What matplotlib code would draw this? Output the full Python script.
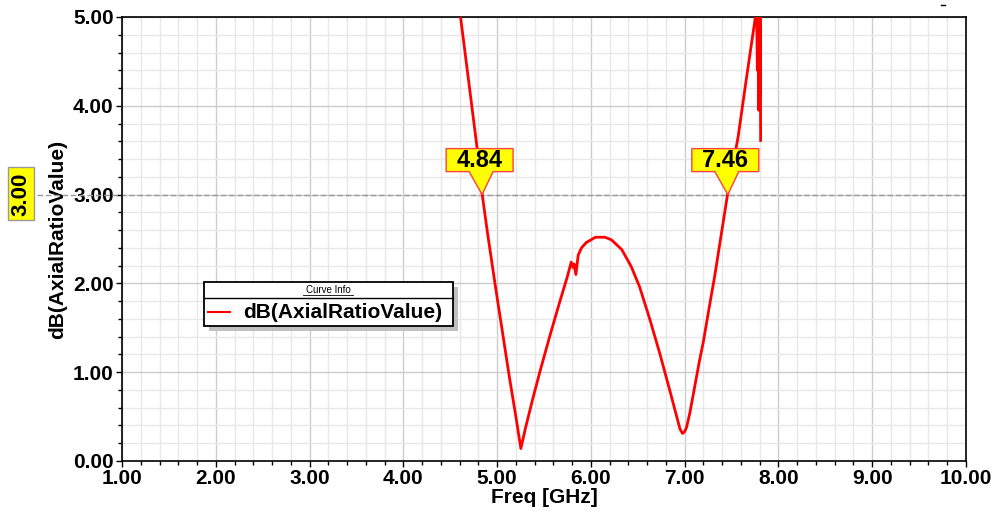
import matplotlib
matplotlib.use("Agg")
import matplotlib.pyplot as plt
import matplotlib.transforms as mtransforms
from matplotlib.patches import Polygon, Rectangle
from matplotlib.lines import Line2D
from matplotlib.ticker import MultipleLocator, FormatStrFormatter

plt.rcParams['font.family'] = ['Liberation Sans', 'DejaVu Sans']

# curve data (values above 5 are clipped by the axes)
freq = [4.50, 4.61, 4.70, 4.78, 4.84, 4.90, 4.977, 5.05, 5.13, 5.20, 5.253,
        5.30, 5.38, 5.46, 5.56, 5.67, 5.75, 5.79, 5.81, 5.82, 5.84, 5.865,
        5.90, 5.95, 6.05, 6.15, 6.22, 6.33, 6.43, 6.52, 6.63, 6.735, 6.84, 6.93,
        6.95, 6.977, 7.00, 7.02, 7.055, 7.16, 7.197, 7.27, 7.32, 7.46, 7.57,
        7.66, 7.75, 7.765, 7.775, 7.78, 7.79, 7.795, 7.80, 7.805, 7.81]
axial_ratio = [5.95, 5.00, 4.25, 3.58, 3.01, 2.55, 2.00, 1.50, 0.95, 0.50, 0.14,
               0.36, 0.70, 1.02, 1.40, 1.80, 2.08, 2.24, 2.18, 2.22, 2.10, 2.32,
               2.40, 2.46, 2.52, 2.52, 2.49, 2.38, 2.19, 1.96, 1.59, 1.21, 0.80, 0.44,
               0.36, 0.31, 0.33, 0.38, 0.54, 1.14, 1.33, 1.78, 2.08, 3.02, 3.65,
               4.32, 4.97, 5.30, 4.40, 5.60, 3.95, 5.50, 4.10, 5.60, 3.61]

marker_freqs = [4.84, 7.46]
marker_labels = ['4.84', '7.46']
ref_level = 3.0

W, H = 996, 518
fig = plt.figure(figsize=(W / 100, H / 100), dpi=100)
ax = fig.add_axes([122 / W, 1 - 461 / H, 844 / W, 444 / H])

def fx(px):
    return px / W

def fy(py):
    return 1 - py / H

ax.set_xlim(1, 10)
ax.set_ylim(0, 5)
ax.xaxis.set_major_locator(MultipleLocator(1))
ax.xaxis.set_minor_locator(MultipleLocator(0.2))
ax.yaxis.set_major_locator(MultipleLocator(1))
ax.yaxis.set_minor_locator(MultipleLocator(0.2))
ax.xaxis.set_major_formatter(FormatStrFormatter('%.2f'))
ax.yaxis.set_major_formatter(FormatStrFormatter('%.2f'))
ax.grid(which='major', color='#cccccc', lw=1.0)
ax.grid(which='minor', color='#e8e8e8', lw=1.0)
ax.set_axisbelow(True)
ax.tick_params(which='major', direction='out', length=4, width=1, pad=2,
               labelsize=15)
ax.tick_params(which='minor', direction='out', length=3, width=1)
for lab in ax.get_xticklabels() + ax.get_yticklabels():
    lab.set_fontweight('bold')
for s in ax.spines.values():
    s.set_color('black')
    s.set_linewidth(1.2)

ax.set_xlabel('Freq [GHz]', fontsize=15, fontweight='bold', labelpad=0)
ax.set_ylabel('dB(AxialRatioValue)', fontsize=15, fontweight='bold', labelpad=4)

# reference line at 3 dB, running out past the axis to the left label
ax.plot([-0.1007, 1], [ref_level, ref_level], transform=ax.get_yaxis_transform(),
        color='#999999', lw=1, ls=(0, (4, 2)), clip_on=False, zorder=1)

ax.plot(freq, axial_ratio, color='#ff0000', lw=2, zorder=3)

# marker callouts
for mf, ml in zip(marker_freqs, marker_labels):
    tr = fig.dpi_scale_trans + mtransforms.ScaledTranslation(mf, ref_level, ax.transData)
    pts = [(0, 0), (-0.13, 0.23), (-0.36, 0.23), (-0.36, 0.46),
           (0.31, 0.46), (0.31, 0.23), (0.11, 0.23)]
    ax.add_patch(Polygon(pts, closed=True, transform=tr, facecolor='#ffff00',
                         edgecolor='#ff4040', lw=1, clip_on=False, zorder=5))
    ax.text(-0.025, 0.345, ml, transform=tr, ha='center', va='center',
            fontsize=17, fontweight='bold', zorder=6)

# left "3.00" label
fig.patches.append(Rectangle((fx(8), fy(220)), fx(26), 53 / H, transform=fig.transFigure,
                             facecolor='#ffff00', edgecolor='#999999', lw=1))
fig.text(fx(21), fy(194), '3.00', rotation=90, ha='center', va='center',
         fontsize=16, fontweight='bold')

# legend box "Curve Info"
fig.patches.append(Rectangle((fx(209), fy(331)), fx(249), 44 / H, transform=fig.transFigure,
                             facecolor='#c0c0c0', edgecolor='none', zorder=7))
fig.patches.append(Rectangle((fx(204), fy(326)), fx(249), 44 / H, transform=fig.transFigure,
                             facecolor='white', edgecolor='black', lw=1.3, zorder=8))
fig.lines.append(Line2D([fx(204), fx(453)], [fy(298), fy(298)], transform=fig.transFigure,
                        color='black', lw=1, zorder=9))
fig.text(fx(328), fy(290), 'Curve Info', ha='center', va='center', fontsize=7,
         zorder=9)
fig.lines.append(Line2D([fx(303), fx(353)], [fy(294.5), fy(294.5)], transform=fig.transFigure,
                        color='black', lw=0.6, zorder=9))
fig.lines.append(Line2D([fx(208), fx(230)], [fy(312), fy(312)], transform=fig.transFigure,
                        color='#ff0000', lw=1.5, zorder=9))
fig.text(fx(243), fy(313), 'dB(AxialRatioValue)', ha='left', va='center',
         fontsize=15, fontweight='bold', zorder=9)

# small dash in the top right corner
fig.lines.append(Line2D([fx(941), fx(945)], [fy(5), fy(5)], transform=fig.transFigure,
                        color='black', lw=1))

fig.savefig('out.png', dpi=100)
